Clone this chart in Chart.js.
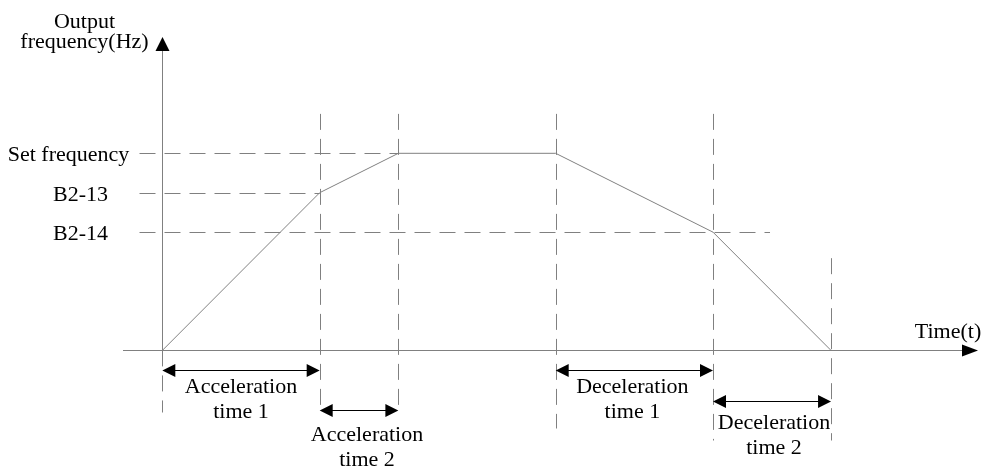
<!DOCTYPE html>
<html>
<head>
<meta charset="utf-8">
<script src="https://cdn.jsdelivr.net/npm/chart.js@4.4.0/dist/chart.umd.min.js"></script>
<style>
  html, body { margin: 0; padding: 0; background: #ffffff; }
  canvas { display: block; }
</style>
</head>
<body>
<canvas id="freqChart" width="982" height="467"></canvas>
<script>
// === Data ===
const timePoints = [0, 4, 6, 10, 14, 17];
const frequency = [0, 40, 50, 50, 30, 0];

const levelLabels = ["Set frequency", "B2-13", "B2-14"];
const levelValues = [50, 40, 30];

const spanLabels = [
    ["Acceleration", "time 1"],
    ["Acceleration", "time 2"],
    ["Deceleration", "time 1"],
    ["Deceleration", "time 2"]
];
const spanPoints = [[0, 1], [1, 2], [3, 4], [4, 5]];

const yAxisTitle = ["Output", "frequency(Hz)"];
const xAxisTitle = "Time(t)";

const FONT = '22px "Liberation Serif", "Times New Roman", serif';
const LINE = "#808080";

// layout for the span arrows, in px below the time axis
const spanLayout = [
    { arrow: 19, text: 42, dx: 0 },
    { arrow: 59, text: 90, dx: 8 },
    { arrow: 19, text: 42, dx: -2 },
    { arrow: 50, text: 78, dx: 2 }
];
// vertical guides: which time point, top value, bottom in px below axis
const vGuides = [
    { i: 0, top: 0, down: 62 },
    { i: 1, top: 60, down: 58 },
    { i: 2, top: 60, down: 58 },
    { i: 3, top: 60, down: 78 },
    { i: 4, top: 60, down: 90 },
    { i: 5, top: 23.4, down: 90 }
];
const guideOvershoot = [0, 0, 57];
const levelLabelDx = [-94, -82, -82];

function arrowHead(ctx, x, y, dir, len, half) {
    ctx.beginPath();
    if (dir === "right") { ctx.moveTo(x, y); ctx.lineTo(x - len, y - half); ctx.lineTo(x - len, y + half); }
    if (dir === "left") { ctx.moveTo(x, y); ctx.lineTo(x + len, y - half); ctx.lineTo(x + len, y + half); }
    if (dir === "up") { ctx.moveTo(x, y); ctx.lineTo(x - half, y + len); ctx.lineTo(x + half, y + len); }
    ctx.closePath();
    ctx.fill();
}

const diagram = {
    id: "diagram",
    beforeDatasetsDraw(chart) {
        const { ctx, scales: { x, y } } = chart;
        const x0 = Math.round(x.getPixelForValue(0)) + 0.5;
        const y0 = Math.round(y.getPixelForValue(0)) + 0.5;

        ctx.save();
        ctx.strokeStyle = LINE;
        ctx.lineWidth = 1;
        ctx.setLineDash([16, 9]);

        // horizontal guides from the labels to where the curve meets them
        levelValues.forEach((v, k) => {
            const py = Math.round(y.getPixelForValue(v)) + 0.5;
            const hits = timePoints.filter((t, i) => frequency[i] === v);
            ctx.beginPath();
            ctx.moveTo(x0 - 23, py);
            ctx.lineTo(x.getPixelForValue(hits[0]) + guideOvershoot[k], py);
            ctx.stroke();
        });

        // vertical guides
        vGuides.forEach(g => {
            const px = Math.round(x.getPixelForValue(timePoints[g.i])) + 0.5;
            ctx.beginPath();
            ctx.moveTo(px, y.getPixelForValue(g.top));
            ctx.lineTo(px, y0 + g.down);
            ctx.stroke();
        });
        ctx.restore();
    },
    afterDatasetsDraw(chart) {
        const { ctx, chartArea, scales: { x, y } } = chart;
        const x0 = Math.round(x.getPixelForValue(0)) + 0.5;
        const y0 = Math.round(y.getPixelForValue(0)) + 0.5;

        ctx.save();
        // axes
        ctx.strokeStyle = LINE;
        ctx.lineWidth = 1;
        ctx.beginPath();
        ctx.moveTo(chartArea.left, y0);
        ctx.lineTo(chartArea.right - 8, y0);
        ctx.moveTo(x0, y0);
        ctx.lineTo(x0, chartArea.top + 8);
        ctx.stroke();
        ctx.fillStyle = "#000000";
        arrowHead(ctx, chartArea.right + 3, y0, "right", 16, 6);
        arrowHead(ctx, x0, chartArea.top, "up", 14, 7);

        // texts
        ctx.font = FONT;
        ctx.fillStyle = "#000000";
        ctx.textAlign = "center";
        ctx.textBaseline = "alphabetic";
        ctx.fillText(yAxisTitle[0], x0 - 78, 28);
        ctx.fillText(yAxisTitle[1], x0 - 78, 48);
        ctx.fillText(xAxisTitle, chartArea.right - 27, y0 - 13);

        levelLabels.forEach((lab, k) => {
            const py = y.getPixelForValue(levelValues[k]);
            ctx.textBaseline = "middle";
            ctx.fillText(lab, x0 + levelLabelDx[k], py + 2);
        });

        // span arrows with their labels
        ctx.textBaseline = "alphabetic";
        spanPoints.forEach((pair, k) => {
            const a = x.getPixelForValue(timePoints[pair[0]]);
            const b = x.getPixelForValue(timePoints[pair[1]]);
            const L = spanLayout[k];
            const py = Math.round(y0 + L.arrow) + 0.5;
            ctx.strokeStyle = "#000000";
            ctx.beginPath();
            ctx.moveTo(a + 6, py);
            ctx.lineTo(b - 6, py);
            ctx.stroke();
            arrowHead(ctx, a, py, "left", 13, 6.5);
            arrowHead(ctx, b, py, "right", 13, 6.5);
            const cx = (a + b) / 2 + L.dx;
            ctx.fillText(spanLabels[k][0], cx, y0 + L.text);
            ctx.fillText(spanLabels[k][1], cx, y0 + L.text + 25);
        });
        ctx.restore();
    }
};

const ctxEl = document.getElementById("freqChart");
const freqChart = new Chart(ctxEl, {
    type: "line",
    data: {
        datasets: [{
            data: timePoints.map((t, i) => ({ x: t, y: frequency[i] })),
            borderColor: LINE,
            borderWidth: 1,
            pointRadius: 0,
            tension: 0,
            fill: false
        }]
    },
    options: {
        responsive: false,
        animation: false,
        layout: { padding: { left: 123, right: 7, top: 37, bottom: 18 } },
        plugins: { legend: { display: false }, tooltip: { enabled: false } },
        scales: {
            x: { type: "linear", min: -1, max: 20.66, display: false },
            y: { type: "linear", min: -25, max: 79.5, display: false }
        }
    },
    plugins: [diagram]
});
</script>
</body>
</html>
